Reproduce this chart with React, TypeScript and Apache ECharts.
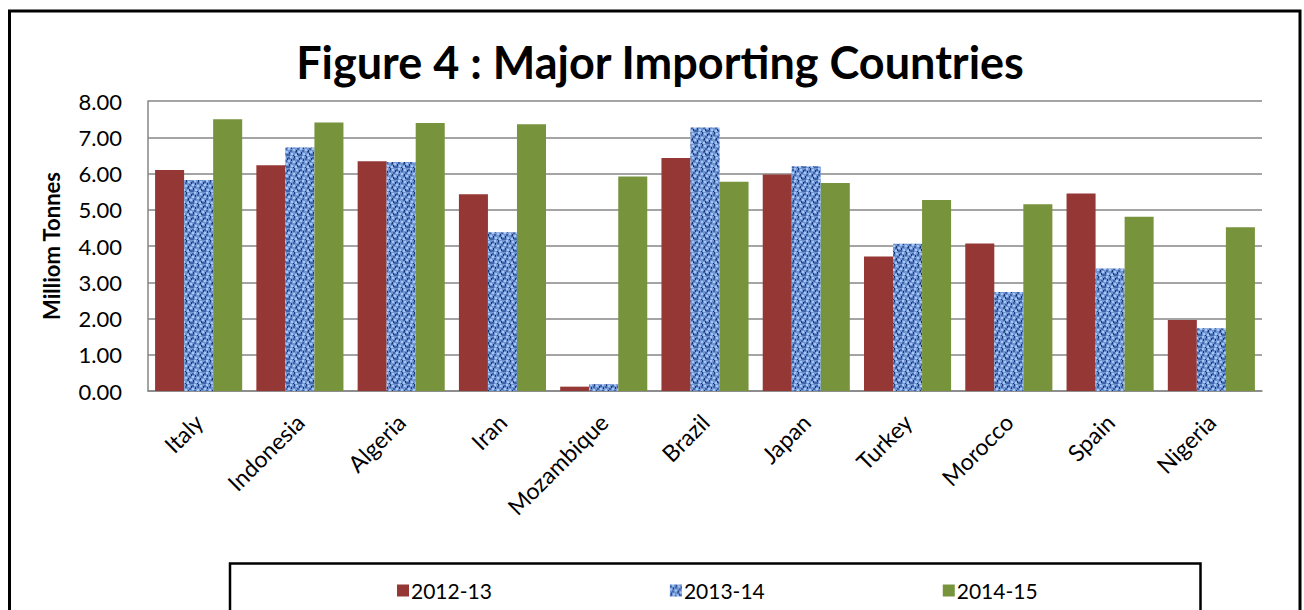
import React, { useEffect, useRef } from "react";
import * as echarts from "echarts";

const categories = ["Italy", "Indonesia", "Algeria", "Iran", "Mozambique", "Brazil", "Japan", "Turkey", "Morocco", "Spain", "Nigeria"];
const seriesNames = ["2012-13", "2013-14", "2014-15"];
const values2012 = [6.1, 6.23, 6.34, 5.43, 0.12, 6.43, 5.97, 3.71, 4.07, 5.45, 1.96];
const values2013 = [5.82, 6.72, 6.32, 4.38, 0.19, 7.27, 6.2, 4.06, 2.73, 3.38, 1.73];
const values2014 = [7.5, 7.41, 7.39, 7.36, 5.92, 5.77, 5.74, 5.27, 5.15, 4.81, 4.52];
const yTicks = { min: 0, max: 8, interval: 1 };

function makePattern(): string {
  const c = document.createElement("canvas");
  c.width = 12;
  c.height = 12;
  const ctx = c.getContext("2d");
  if (!ctx) return "#6f8fd0";
  ctx.fillStyle = "#7196d6";
  ctx.fillRect(0, 0, 12, 12);
  ctx.fillStyle = "#a6c6f4";
  [[2, 0], [8, 1], [0, 4], [5, 5], [10, 7], [3, 9], [7, 10]].forEach(([x, y]) => ctx.fillRect(x, y, 2, 2));
  ctx.fillStyle = "#3f63aa";
  [[0, 1], [5, 2], [9, 4], [2, 6], [7, 7], [0, 10], [10, 10]].forEach(([x, y]) => ctx.fillRect(x, y, 2, 2));
  ctx.fillStyle = "#1b3670";
  [[6, 0], [3, 3], [11, 2], [8, 6], [1, 8], [5, 11], [9, 9]].forEach(([x, y]) => ctx.fillRect(x, y, 1, 2));
  return c.toDataURL();
}

export default function App() {
  const ref = useRef<HTMLDivElement>(null);
  useEffect(() => {
    if (!ref.current) return;
    const chart = echarts.init(ref.current, undefined, { renderer: "svg" });
    const patternUrl = makePattern();
    const font = "Lato, 'Open Sans', sans-serif";
    chart.setOption({
      animation: false,
      backgroundColor: "#ffffff",
      title: {
        text: "Figure 4 : Major Importing Countries",
        left: 655,
        textAlign: "center",
        top: 34,
        textStyle: { fontFamily: font, fontWeight: "bold", fontSize: 45, color: "#000" },
      },
      legend: {
        data: seriesNames,
        left: 392,
        top: 575,
        itemGap: 178,
        itemWidth: 12,
        itemHeight: 12,
        icon: "rect",
        textStyle: { fontFamily: font, fontSize: 21, color: "#000", padding: [0, 0, 0, -3] },
      },
      grid: { left: 148, top: 101, right: 42, bottom: 219, containLabel: false },
      xAxis: {
        type: "category",
        data: categories,
        axisLine: { lineStyle: { color: "#868686", width: 1.5 } },
        axisTick: { show: false },
        axisLabel: { rotate: 45, fontFamily: font, fontSize: 23, color: "#000", margin: 27, interval: 0 },
      },
      yAxis: {
        type: "value",
        min: yTicks.min,
        max: yTicks.max,
        interval: yTicks.interval,
        name: "Milliom Tonnes",
        nameLocation: "middle",
        nameGap: 86,
        nameTextStyle: { fontFamily: font, fontWeight: "bold", fontSize: 22, color: "#000" },
        axisLine: { show: true, lineStyle: { color: "#868686", width: 1.5 } },
        axisTick: { show: false },
        splitLine: { lineStyle: { color: "#868686", width: 1.5 } },
        axisLabel: {
          fontFamily: font,
          fontSize: 22,
          color: "#000",
          margin: 26,
          formatter: (v: number) => v.toFixed(2),
        },
      },
      series: [
        {
          name: seriesNames[0],
          type: "bar",
          data: values2012,
          barGap: "0%",
          barCategoryGap: "14%",
          itemStyle: { color: "#953735" },
        },
        {
          name: seriesNames[1],
          type: "bar",
          data: values2013,
          barGap: "0%",
          barCategoryGap: "14%",
          itemStyle: { color: { image: patternUrl, repeat: "repeat" } },
        },
        {
          name: seriesNames[2],
          type: "bar",
          data: values2014,
          barGap: "0%",
          barCategoryGap: "14%",
          itemStyle: { color: "#77933c" },
        },
      ],
      graphic: [
        {
          type: "rect",
          shape: { x: 9.5, y: 11, width: 1290.5, height: 620 },
          style: { fill: "none", stroke: "#000", lineWidth: 3 },
          silent: true,
        },
        {
          type: "rect",
          shape: { x: 230, y: 563.5, width: 970.5, height: 70 },
          style: { fill: "none", stroke: "#000", lineWidth: 2.5 },
          silent: true,
        },
      ],
    });
    return () => chart.dispose();
  }, []);
  return (
    <div
      ref={ref}
      style={{ position: "fixed", left: 0, top: 0, width: 1304, height: 610 }}
    />
  );
}
